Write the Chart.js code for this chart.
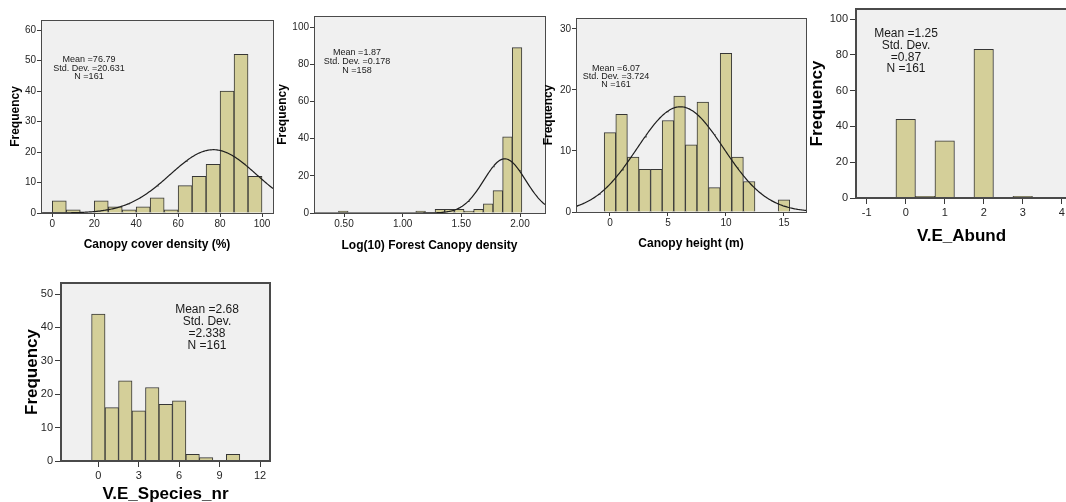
<!DOCTYPE html>
<html>
<head>
<meta charset="utf-8">
<title>Histograms</title>
<script src="https://cdn.jsdelivr.net/npm/chart.js@4.4.1/dist/chart.umd.min.js"></script>
<style>
  html, body { margin: 0; padding: 0; background: #fff; overflow: hidden; }
  body { width: 1066px; height: 502px; position: relative; }
  canvas { position: absolute; }
</style>
</head>
<body>
<canvas id="cover"></canvas>
<canvas id="density"></canvas>
<canvas id="height"></canvas>
<canvas id="abund"></canvas>
<canvas id="species"></canvas>
<script>
// Canopy cover density (%)
var coverBins = [3.333, 10, 16.667, 23.333, 30, 36.667, 43.333, 50, 56.667, 63.333, 70, 76.667, 83.333, 90, 96.667];
var coverCounts = [4, 1, 0, 4, 2, 1, 2, 5, 1, 9, 12, 16, 40, 52, 12];
var coverTicksX = [0, 20, 40, 60, 80, 100];
var coverTicksY = [0, 10, 20, 30, 40, 50, 60];
var coverStats = ['Mean =76.79', 'Std. Dev. =20.631', 'N =161'];
var coverFit = { mean: 76.79, sd: 20.631, n: 161, binWidth: 6.667 };

// Log(10) Forest Canopy density
var densityBins = [0.494, 0.576, 0.659, 0.741, 0.823, 0.906, 0.988, 1.070, 1.153, 1.235,
                   1.317, 1.399, 1.482, 1.564, 1.646, 1.729, 1.811, 1.893, 1.975];
var densityCounts = [1, 0, 0, 0, 0, 0, 0, 0, 1, 0, 2, 2, 2, 1, 2, 5, 12, 41, 89];
var densityTicksX = [0.5, 1.0, 1.5, 2.0];
var densityTicksY = [0, 20, 40, 60, 80, 100];
var densityStats = ['Mean =1.87', 'Std. Dev. =0.178', 'N =158'];
var densityFit = { mean: 1.87, sd: 0.178, n: 158, binWidth: 0.0823 };

// Canopy height (m)
var heightBins = [0, 1, 2, 3, 4, 5, 6, 7, 8, 9, 10, 11, 12, 13, 14, 15];
var heightCounts = [13, 16, 9, 7, 7, 15, 19, 11, 18, 4, 26, 9, 5, 0, 0, 2];
var heightTicksX = [0, 5, 10, 15];
var heightTicksY = [0, 10, 20, 30];
var heightStats = ['Mean =6.07', 'Std. Dev. =3.724', 'N =161'];
var heightFit = { mean: 6.07, sd: 3.724, n: 161, binWidth: 1 };

// V.E_Abund
var abundBins = [0, 0.5, 1, 1.5, 2, 2.5, 3];
var abundCounts = [44, 1, 32, 0, 83, 0, 1];
var abundTicksX = [-1, 0, 1, 2, 3, 4];
var abundTicksY = [0, 20, 40, 60, 80, 100];
var abundStats = ['Mean =1.25', 'Std. Dev.', '=0.87', 'N =161'];

// V.E_Species_nr
var speciesBins = [0, 1, 2, 3, 4, 5, 6, 7, 8, 9, 10];
var speciesCounts = [44, 16, 24, 15, 22, 17, 18, 2, 1, 0, 2];
var speciesTicksX = [0, 3, 6, 9, 12];
var speciesTicksY = [0, 10, 20, 30, 40, 50];
var speciesStats = ['Mean =2.68', 'Std. Dev.', '=2.338', 'N =161'];

var FONT = 'Arial, "Liberation Sans", Helvetica, sans-serif';

// fitted normal curve, scaled to counts per bin
function normalCurve(fit, from, to) {
  var pts = [];
  var k = fit.n * fit.binWidth / (fit.sd * Math.sqrt(2 * Math.PI));
  for (var i = 0; i <= 240; i++) {
    var x = from + (to - from) * i / 240;
    var z = (x - fit.mean) / fit.sd;
    pts.push({ x: x, y: k * Math.exp(-z * z / 2) });
  }
  return pts;
}

// grey plot background, frame and the stats box text
var panelFrame = {
  id: 'panelFrame',
  beforeDraw: function (chart) {
    var a = chart.chartArea, ctx = chart.ctx;
    ctx.save();
    ctx.fillStyle = '#f0f0f0';
    ctx.fillRect(a.left, a.top, a.right - a.left, a.bottom - a.top);
    ctx.restore();
  },
  afterDraw: function (chart, args, o) {
    var a = chart.chartArea, ctx = chart.ctx;
    ctx.save();
    ctx.strokeStyle = '#4a4a4a';
    ctx.lineWidth = o.frameWidth;
    var off = o.frameWidth % 2 ? 0.5 : 0;
    ctx.strokeRect(a.left + off, a.top + off, a.right - a.left, a.bottom - a.top);
    ctx.fillStyle = '#1a1a1a';
    ctx.font = o.statsSize + 'px ' + FONT;
    ctx.textAlign = 'center';
    ctx.textBaseline = 'middle';
    o.stats.forEach(function (line, i) {
      ctx.fillText(line, o.statsX - o.x0, o.statsY[i] - o.y0);
    });
    ctx.restore();
  }
};

function makePanel(id, L, spec) {
  var cv = document.getElementById(id);
  var w = L.x1 - L.x0, h = L.y1 - L.y0;
  cv.width = w; cv.height = h;
  cv.style.left = L.x0 + 'px'; cv.style.top = L.y0 + 'px';
  cv.style.width = w + 'px'; cv.style.height = h + 'px';

  var yAxisW = L.left - L.x0;
  var xAxisH = L.y1 - L.bottom;
  var yLh = L.yTitleSize * 1.2, xLh = L.xTitleSize * 1.2;

  var datasets = [{
    type: 'bar',
    order: 2,
    data: spec.bins.map(function (c, i) { return { x: c, y: spec.counts[i] }; }),
    backgroundColor: '#d4cf99',
    borderColor: '#363636',
    borderWidth: 1,
    categoryPercentage: 1,
    barPercentage: 1
  }];
  if (spec.fit) {
    datasets.push({
      type: 'line',
      order: 1,
      data: normalCurve(spec.fit, spec.xMin, spec.xMax),
      borderColor: '#1e1e1e',
      borderWidth: 1.2,
      pointRadius: 0,
      fill: false,
      tension: 0
    });
  }

  var tickFont = { family: FONT, size: L.tickSize };
  function gridOpts() {
    return {
      display: true, drawOnChartArea: false, drawTicks: true, offset: false,
      tickLength: L.tickLen, color: '#3a3a3a', tickColor: '#3a3a3a', lineWidth: 1
    };
  }

  return new Chart(cv, {
    type: 'bar',
    data: { datasets: datasets },
    plugins: [panelFrame],
    options: {
      responsive: false,
      animation: false,
      layout: { padding: { left: 0, top: L.top - L.y0, right: L.x1 - L.right, bottom: 0 } },
      plugins: {
        legend: { display: false },
        tooltip: { enabled: false },
        panelFrame: {
          stats: spec.stats, statsX: spec.statsX, statsY: spec.statsY,
          statsSize: L.statsSize, frameWidth: L.frameWidth, x0: L.x0, y0: L.y0
        }
      },
      scales: {
        x: {
          type: 'linear', min: spec.xMin, max: spec.xMax, offset: false,
          afterBuildTicks: function (s) { s.ticks = spec.ticksX.map(function (v) { return { value: v }; }); },
          ticks: {
            font: tickFont, color: '#262626', padding: L.xPad, maxRotation: 0, autoSkip: false,
            callback: function (v) { return spec.xFormat ? spec.xFormat(v) : String(v); }
          },
          grid: gridOpts(),
          border: { display: false },
          title: {
            display: true, text: spec.xTitle, color: '#000',
            font: { family: FONT, size: L.xTitleSize, weight: 'bold' },
            padding: { top: 0, bottom: L.y1 - L.xTitleY - xLh / 2 }
          },
          afterFit: function (s) { s.height = xAxisH; s.paddingLeft = 0; s.paddingRight = 0; }
        },
        y: {
          type: 'linear', min: 0, max: spec.yMax,
          afterBuildTicks: function (s) { s.ticks = spec.ticksY.map(function (v) { return { value: v }; }); },
          ticks: { font: tickFont, color: '#262626', padding: L.yPad, autoSkip: false },
          grid: gridOpts(),
          border: { display: false },
          title: {
            display: true, text: 'Frequency', color: '#000',
            font: { family: FONT, size: L.yTitleSize, weight: 'bold' },
            padding: { top: L.yTitleX - L.x0 - yLh / 2, bottom: 0 }
          },
          afterFit: function (s) { s.width = yAxisW; s.paddingTop = 0; s.paddingBottom = 0; }
        }
      }
    }
  });
}

var smallPanel = { tickSize: 10, yTitleSize: 12, xTitleSize: 12, statsSize: 9, tickLen: 4, xPad: 1, yPad: 1, frameWidth: 1 };
var largePanel = { tickSize: 11, yTitleSize: 17, xTitleSize: 17, statsSize: 12, tickLen: 6, xPad: 2, yPad: 2, frameWidth: 2 };

function withBox(base, box) {
  var o = {};
  for (var k in base) o[k] = base[k];
  for (var j in box) o[j] = box[j];
  return o;
}

makePanel('cover',
  withBox(smallPanel, { x0: 0, y0: 10, x1: 280, y1: 260, left: 41, top: 20, right: 273, bottom: 213, yTitleX: 16, xTitleY: 245 }),
  { bins: coverBins, counts: coverCounts, ticksX: coverTicksX, ticksY: coverTicksY,
    xMin: -5.39, xMax: 105.24, yMax: 63.3, fit: coverFit,
    xTitle: 'Canopy cover density (%)', stats: coverStats, statsX: 89, statsY: [60, 68.5, 77] });

makePanel('density',
  withBox(smallPanel, { x0: 270, y0: 6, x1: 552, y1: 262, left: 314, top: 16, right: 545, bottom: 213, yTitleX: 283, xTitleY: 246 }),
  { bins: densityBins, counts: densityCounts, ticksX: densityTicksX, ticksY: densityTicksY,
    xMin: 0.2443, xMax: 2.213, yMax: 106, fit: densityFit,
    xFormat: function (v) { return v.toFixed(2); },
    xTitle: 'Log(10) Forest Canopy density', stats: densityStats, statsX: 357, statsY: [53, 62, 71] });

makePanel('height',
  withBox(smallPanel, { x0: 540, y0: 8, x1: 812, y1: 260, left: 576, top: 18, right: 806, bottom: 212, yTitleX: 549, xTitleY: 244 }),
  { bins: heightBins, counts: heightCounts, ticksX: heightTicksX, ticksY: heightTicksY,
    xMin: -2.93, xMax: 16.9, yMax: 31.8, fit: heightFit,
    xTitle: 'Canopy height (m)', stats: heightStats, statsX: 616, statsY: [69, 77, 84.5] });

makePanel('abund',
  withBox(largePanel, { x0: 800, y0: 0, x1: 1070, y1: 252, left: 856, top: 9, right: 1067, bottom: 198, yTitleX: 817, xTitleY: 236 }),
  { bins: abundBins, counts: abundCounts, ticksX: abundTicksX, ticksY: abundTicksY,
    xMin: -1.274, xMax: 4.136, yMax: 105.6,
    xTitle: 'V.E_Abund', stats: abundStats, statsX: 906, statsY: [34, 45.5, 57.5, 69] });

makePanel('species',
  withBox(largePanel, { x0: 0, y0: 274, x1: 278, y1: 502, left: 61, top: 283, right: 270, bottom: 461, yTitleX: 32, xTitleY: 494 }),
  { bins: speciesBins, counts: speciesCounts, ticksX: speciesTicksX, ticksY: speciesTicksY,
    xMin: -2.77, xMax: 12.74, yMax: 53.3,
    xTitle: 'V.E_Species_nr', stats: speciesStats, statsX: 207, statsY: [310, 322, 334, 346] });
</script>
</body>
</html>
